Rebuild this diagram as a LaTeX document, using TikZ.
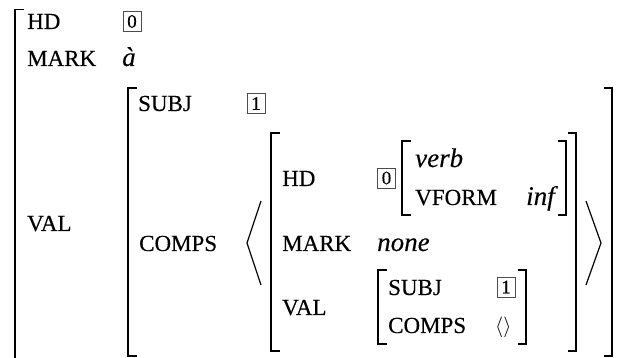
\documentclass[tikz,border=0pt]{standalone}
\usepackage{fontspec}
\setmainfont{Liberation Serif}[FakeBold=0.3]
\newcommand\avmL[3]{\draw[brk] ({#1+8.5},#2) -- (#1,#2) -- (#1,#3) -- ({#1+8.5},#3);}
\newcommand\avmR[3]{\draw[brk] ({#1-8.5},#2) -- (#1,#2) -- (#1,#3) -- ({#1-8.5},#3);}
\begin{document}
\begin{tikzpicture}[x=1pt,y=-1pt,
  lbl/.style={anchor=base west,inner sep=0pt,font=\fontsize{23}{27}\selectfont},
  val/.style={anchor=base west,inner sep=0pt,font=\fontsize{27}{31}\selectfont\itshape},
  tag/.style={draw=black!70,line width=0.6pt,minimum width=18pt,minimum height=20pt,inner sep=0pt,font=\fontsize{19}{21}\selectfont},
  brk/.style={line width=1.6pt,line join=miter},
  ang/.style={line width=1.2pt,line join=miter}
]
\useasboundingbox (0,0) rectangle (619,358);
% outer matrix
\draw[brk] (24,9.5) -- (15,9.5) -- (15,362);
\node[lbl] (hd) at (27,29) {HD};
\node[tag] (t0) at (132,21.5) {0};
\node[lbl] (mark) at (27,66) {MARK};
\node[val] (a) at (122,66) {à};
\node[lbl] (val) at (27,231) {VAL};
% VAL matrix
\avmL{128}{88}{356}
\avmR{612}{88}{356}
\node[lbl] (subj) at (138,111) {SUBJ};
\node[tag] (t1) at (256,103.5) {1};
\node[lbl] (comps) at (139,251) {COMPS};
% angle brackets
\draw[ang] (261,201) -- (247,243) -- (261,285);
\draw[ang] (586,201) -- (601,243) -- (586,285);
% inner matrix
\avmL{271}{133}{351}
\avmR{576}{133}{351}
\node[lbl] (hd2) at (282,186) {HD};
\node[tag] (t0b) at (386.5,178) {0};
\avmL{402}{141}{215}
\avmR{566}{141}{215}
\node[val] (verb) at (415,167) {verb};
\node[lbl] (vform) at (415,205) {VFORM};
\node[val] (inf) at (526,205) {inf};
\node[lbl] (mark2) at (282,251) {MARK};
\node[val] (none) at (377,251) {none};
\node[lbl] (val2) at (282,315) {VAL};
\avmL{378}{270}{344}
\avmR{526}{270}{344}
\node[lbl] (subj2) at (388,295) {SUBJ};
\node[tag] (t1b) at (506,287) {1};
\node[lbl] (comps2) at (388,333) {COMPS};
\node[anchor=base west,inner sep=0pt,font=\fontsize{21}{24}\selectfont] (empty) at (495,333) {$\langle\rangle$};
\end{tikzpicture}
\end{document}
